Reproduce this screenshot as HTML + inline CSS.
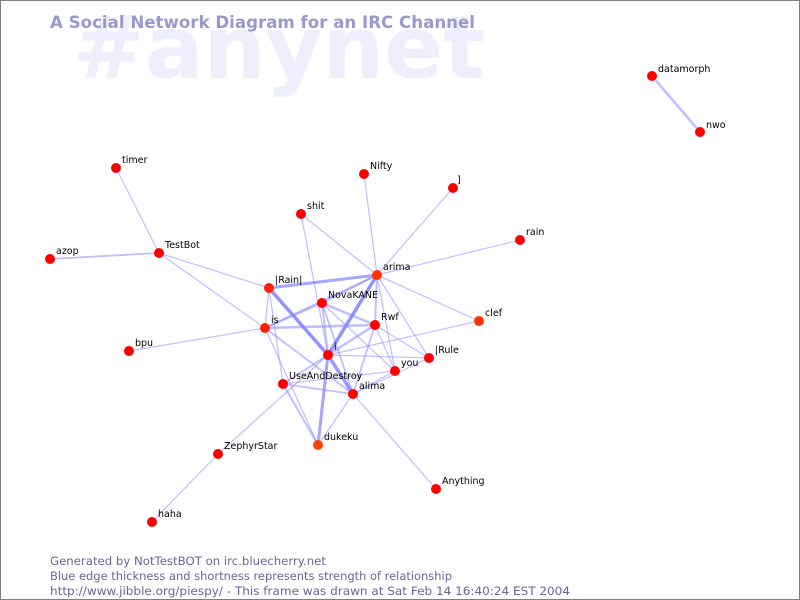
<!DOCTYPE html>
<html><head><style>
html,body{margin:0;padding:0;background:#fff}
svg{display:block}
text{font-family:"DejaVu Sans","Liberation Sans",sans-serif}
</style></head><body>
<svg width="800" height="600" viewBox="0 0 800 600" xmlns="http://www.w3.org/2000/svg">
<rect x="0.5" y="0.5" width="799" height="599" fill="#fff" stroke="#808080"/>
<text x="72" y="78" font-size="87" font-weight="bold" fill="#eeeefc">#anynet</text>
<text x="50" y="28" font-size="16.5" font-weight="bold" fill="#9999cc" textLength="425" lengthAdjust="spacingAndGlyphs">A Social Network Diagram for an IRC Channel</text>
<g stroke="#8080ff" stroke-opacity="0.5" fill="none" stroke-width="1.2">
<line x1="652" y1="76" x2="700" y2="132" stroke-width="2.5"/>
<line x1="116" y1="168" x2="159" y2="253"/>
<line x1="50" y1="259" x2="159" y2="253" stroke-width="1.8"/>
<line x1="159" y1="253" x2="269" y2="288"/>
<line x1="159" y1="253" x2="265" y2="328"/>
<line x1="129" y1="351" x2="265" y2="328"/>
<line x1="364" y1="174" x2="377" y2="275"/>
<line x1="453" y1="188" x2="377" y2="275"/>
<line x1="301" y1="214" x2="377" y2="275"/>
<line x1="301" y1="214" x2="328" y2="355"/>
<line x1="520" y1="240" x2="377" y2="275"/>
<line x1="377" y1="275" x2="269" y2="288" stroke-width="3" stroke-opacity="0.7"/>
<line x1="377" y1="275" x2="328" y2="355" stroke-width="3.5" stroke-opacity="0.85"/>
<line x1="377" y1="275" x2="322" y2="303" stroke-width="2"/>
<line x1="377" y1="275" x2="265" y2="328" stroke-width="1.8"/>
<line x1="377" y1="275" x2="375" y2="325" stroke-width="2"/>
<line x1="377" y1="275" x2="395" y2="371"/>
<line x1="377" y1="275" x2="429" y2="358"/>
<line x1="377" y1="275" x2="479" y2="321"/>
<line x1="269" y1="288" x2="328" y2="355" stroke-width="3.5" stroke-opacity="0.85"/>
<line x1="269" y1="288" x2="265" y2="328"/>
<line x1="269" y1="288" x2="283" y2="384"/>
<line x1="322" y1="303" x2="265" y2="328" stroke-width="2"/>
<line x1="322" y1="303" x2="375" y2="325" stroke-width="2.5"/>
<line x1="322" y1="303" x2="328" y2="355" stroke-width="2"/>
<line x1="322" y1="303" x2="353" y2="394" stroke-width="1.8"/>
<line x1="322" y1="303" x2="395" y2="371"/>
<line x1="265" y1="328" x2="375" y2="325" stroke-width="2.5"/>
<line x1="265" y1="328" x2="353" y2="394" stroke-width="1.8"/>
<line x1="265" y1="328" x2="318" y2="445"/>
<line x1="375" y1="325" x2="328" y2="355" stroke-width="2.5"/>
<line x1="375" y1="325" x2="353" y2="394" stroke-width="1.8"/>
<line x1="375" y1="325" x2="429" y2="358"/>
<line x1="375" y1="325" x2="395" y2="371"/>
<line x1="328" y1="355" x2="353" y2="394" stroke-width="3.5" stroke-opacity="0.8"/>
<line x1="328" y1="355" x2="318" y2="445" stroke-width="3" stroke-opacity="0.7"/>
<line x1="328" y1="355" x2="429" y2="358"/>
<line x1="328" y1="355" x2="283" y2="384" stroke-width="1.8"/>
<line x1="328" y1="355" x2="479" y2="321"/>
<line x1="328" y1="355" x2="218" y2="454"/>
<line x1="283" y1="384" x2="353" y2="394" stroke-width="1.8"/>
<line x1="283" y1="384" x2="395" y2="371"/>
<line x1="283" y1="384" x2="318" y2="445" stroke-width="2"/>
<line x1="218" y1="454" x2="152" y2="522"/>
<line x1="353" y1="394" x2="436" y2="489"/>
<line x1="353" y1="394" x2="318" y2="445"/>
<line x1="353" y1="394" x2="429" y2="358"/>
<line x1="353" y1="394" x2="395" y2="371"/>
</g>
<g fill="#ff0000">
<circle cx="652" cy="76" r="5"/><circle cx="700" cy="132" r="5"/>
<circle cx="116" cy="168" r="5"/><circle cx="364" cy="174" r="5"/>
<circle cx="453" cy="188" r="5"/><circle cx="301" cy="214" r="5"/>
<circle cx="520" cy="240" r="5"/><circle cx="50" cy="259" r="5"/>
<circle cx="159" cy="253" r="5"/><circle cx="377" cy="275" r="5" fill="#ff3300"/>
<circle cx="269" cy="288" r="5" fill="#ff2200"/><circle cx="322" cy="303" r="5"/>
<circle cx="265" cy="328" r="5" fill="#ff2200"/><circle cx="375" cy="325" r="5"/>
<circle cx="479" cy="321" r="5" fill="#ff3300"/><circle cx="129" cy="351" r="5"/>
<circle cx="328" cy="355" r="5"/><circle cx="429" cy="358" r="5"/>
<circle cx="395" cy="371" r="5"/><circle cx="283" cy="384" r="5"/>
<circle cx="353" cy="394" r="5"/><circle cx="318" cy="445" r="5" fill="#ff4400"/>
<circle cx="218" cy="454" r="5"/><circle cx="436" cy="489" r="5"/>
<circle cx="152" cy="522" r="5"/>
</g>
<g font-size="9.5" fill="#000">
<text x="658" y="72">datamorph</text><text x="706" y="128">nwo</text>
<text x="122" y="163">timer</text><text x="370" y="169">Nifty</text>
<text x="457" y="183">]</text><text x="307" y="209">shit</text>
<text x="526" y="235">rain</text><text x="56" y="254">azop</text>
<text x="165" y="248">TestBot</text><text x="383" y="270">arima</text>
<text x="275" y="283">|Rain|</text><text x="328" y="298">NovaKANE</text>
<text x="271" y="323">is</text><text x="381" y="320">Rwf</text>
<text x="485" y="316">clef</text><text x="135" y="346">bpu</text>
<text x="334" y="350">i</text><text x="435" y="353">|Rule</text>
<text x="401" y="366">you</text><text x="289" y="379">UseAndDestroy</text>
<text x="359" y="389">alima</text><text x="324" y="440">dukeku</text>
<text x="224" y="449">ZephyrStar</text><text x="442" y="484">Anything</text>
<text x="158" y="517">haha</text>
</g>
<g font-size="11.5" fill="#666699">
<text x="50" y="565" textLength="276" lengthAdjust="spacingAndGlyphs">Generated by NotTestBOT on irc.bluecherry.net</text>
<text x="50" y="580" textLength="402" lengthAdjust="spacingAndGlyphs">Blue edge thickness and shortness represents strength of relationship</text>
<text x="50" y="595" textLength="520" lengthAdjust="spacingAndGlyphs">http://www.jibble.org/piespy/ - This frame was drawn at Sat Feb 14 16:40:24 EST 2004</text>
</g>
</svg>
</body></html>
